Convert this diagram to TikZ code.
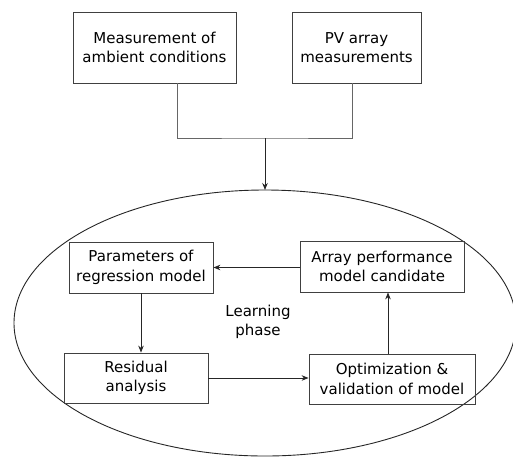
\documentclass[tikz,border=0pt]{standalone}
\usepackage{fontspec}
\setmainfont{DejaVu Sans}
\usetikzlibrary{arrows.meta,positioning,shapes.geometric}

\begin{document}
\begin{tikzpicture}[x=1pt,y=-1pt,
    stepbox/.style={draw=black!75, line width=0.8pt, align=center, inner sep=2pt,
      font=\fontsize{15}{19.5}\selectfont},
    flow/.style={-{Stealth[length=7pt,width=5.5pt]}, draw=black!85, line width=0.9pt},
    feed/.style={draw=black!60, line width=0.7pt}]
  \useasboundingbox (0,0) rectangle (513,456);
  % learning loop
  \node[ellipse, draw=black!85, line width=0.9pt, minimum width=502pt, minimum height=266pt, inner sep=0pt, outer sep=0pt] (loopzone) at (265,323) {};
  \node[font=\fontsize{15}{19.5}\selectfont, align=center] (phase) at (258,322) {Learning\\phase};
  % inputs
  \node[stepbox, minimum width=163pt, minimum height=71pt] (ambient) at (154.5,47.5) {Measurement of\\ambient conditions};
  \node[stepbox, minimum width=129pt, minimum height=71pt] (pvarray) at (356.5,47.5) {PV array\\measurements};
  \coordinate (join) at (265,138);
  % boxes inside the loop
  \node[stepbox, minimum width=144pt, minimum height=51pt] (params) at (141,267.5) {Parameters of\\regression model};
  \node[stepbox, minimum width=164pt, minimum height=51pt] (candidate) at (382,266.5) {Array performance\\model candidate};
  \node[stepbox, minimum width=144pt, minimum height=50pt] (residual) at (136,378) {Residual\\analysis};
  \node[stepbox, minimum width=166pt, minimum height=50pt] (optim) at (392,379) {Optimization \&\\validation of model};

  \draw[feed] ([xshift=23pt]ambient.south) |- (join) -| ([xshift=-4.5pt]pvarray.south);
  \draw[flow] (join) -- (loopzone.north);
  \draw[flow] (candidate.west |- params.east) -- (params.east);
  \draw[flow] (params.south) -- (params.south |- residual.north);
  \draw[flow] (residual.east) -- (residual.east -| optim.west);
  \draw[flow] ([xshift=-4pt]optim.north) -- ([xshift=-4pt]optim.north |- candidate.south);
\end{tikzpicture}
\end{document}
